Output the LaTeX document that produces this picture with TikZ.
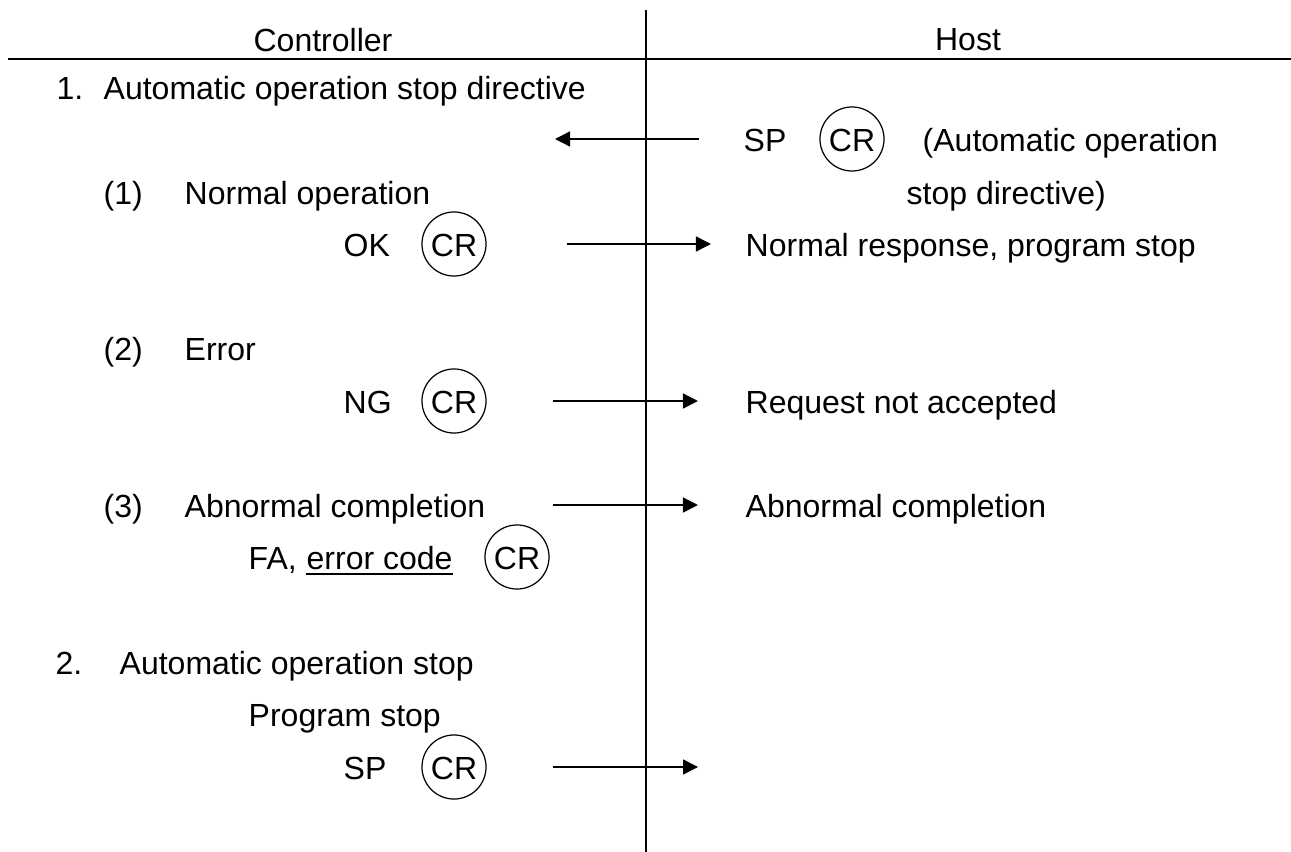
\documentclass[tikz,border=0pt]{standalone}
\usepackage{fontspec}
\setmainfont{Liberation Sans}
\usetikzlibrary{arrows.meta}
\tikzset{
  lbl/.style={anchor=west, inner sep=0pt, text height=0.716em, text depth=0pt},
  crc/.style={draw, circle, minimum size=0.64cm, inner sep=0pt, line width=0.35pt,
              text height=0.716em, text depth=0pt},
  msg/.style={-{Triangle[length=0.15cm,width=0.15cm]}, line width=0.4pt},
}
\begin{document}
\begin{tikzpicture}[x=0.01cm, y=-0.01cm, font=\fontsize{9.1pt}{11pt}\selectfont]
    \useasboundingbox (0,0) rectangle (1291,852);

    % Header
    \node (ctl) at (323,40) {Controller};
    \node (hst) at (968,40) {Host};
    \draw[line width=0.6pt] (8,59) -- (1291,59);
    \draw[line width=0.6pt] (646,10) -- (646,852);

    % 1. Stop directive from host
    \node[lbl] (n1) at (56,87) {1.};
    \node[lbl] (t1) at (103,87) {Automatic operation stop directive};
    \node[lbl] (sp) at (743,139) {SP};
    \node[crc] (cr0) at (852,139) {CR};
    \node[lbl] (d1) at (922,139) {(Automatic operation};
    \node[lbl] (d2) at (906,192) {stop directive)};
    \coordinate (a1) at (555,139);
    \draw[msg, shorten <=0.44cm] (sp.west) -- (a1);

    % (1) Normal operation
    \node[lbl] (p1) at (103,192) {(1)};
    \node[lbl] (t2) at (184,192) {Normal operation};
    \node[lbl] (ok) at (343,244) {OK};
    \node[crc] (cr1) at (454,244) {CR};
    \node[lbl] (r1) at (745,244) {Normal response, program stop};
    \coordinate (o1) at (567,244);
    \draw[msg, shorten >=0.34cm] (o1) -- (r1.west);

    % (2) Error
    \node[lbl] (p2) at (103,348) {(2)};
    \node[lbl] (t3) at (184,348) {Error};
    \node[lbl] (ng) at (343,401) {NG};
    \node[crc] (cr2) at (454,401) {CR};
    \node[lbl] (r2) at (745,401) {Request not accepted};
    \coordinate (o2) at (553,401);
    \draw[msg, shorten >=0.47cm] (o2) -- (r2.west);

    % (3) Abnormal completion
    \node[lbl] (p3) at (103,505) {(3)};
    \node[lbl] (t4) at (184,505) {Abnormal completion};
    \node[lbl] (fa) at (248,557) {FA,};
    \node[lbl] (ec) at (306,557) {error code};
    \draw[line width=0.55pt] ([yshift=-0.04cm]ec.south west) -- ([yshift=-0.04cm]ec.south east);
    \node[crc] (cr3) at (517,557) {CR};
    \node[lbl] (r3) at (745,505) {Abnormal completion};
    \coordinate (o3) at (553,505);
    \draw[msg, shorten >=0.47cm] (o3) -- (r3.west);

    % 2. Stop from controller
    \node[lbl] (n2) at (55,662) {2.};
    \node[lbl] (t5) at (119,662) {Automatic operation stop};
    \node[lbl] (ps) at (248,714) {Program stop};
    \node[lbl] (sp2) at (343,767) {SP};
    \node[crc] (cr4) at (454,767) {CR};
    \coordinate (o4) at (553,767);
    \coordinate (e4) at (698,767);
    \draw[msg] (o4) -- (e4);
\end{tikzpicture}
\end{document}
